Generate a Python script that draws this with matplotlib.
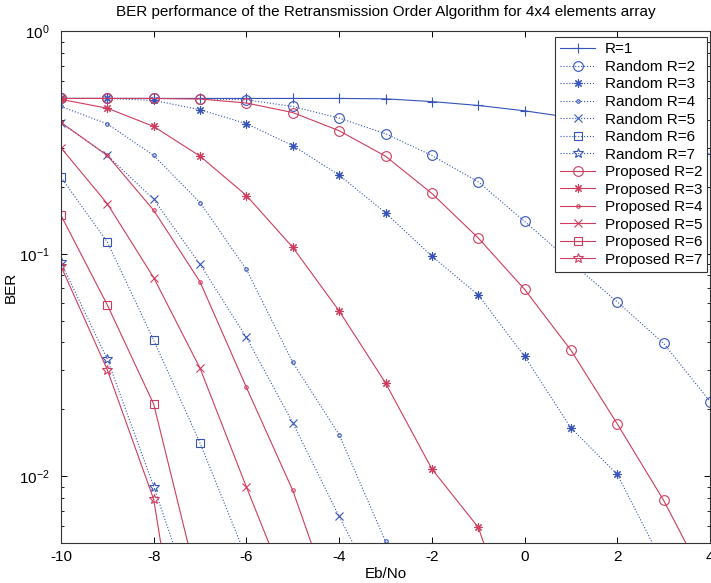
import matplotlib
matplotlib.use("Agg")
import matplotlib.pyplot as plt
from matplotlib.ticker import LogLocator, NullFormatter

plt.rcParams['font.family'] = ['Liberation Sans', 'DejaVu Sans']
plt.rcParams['mathtext.fontset'] = 'custom'
plt.rcParams['mathtext.rm'] = 'Liberation Sans'
plt.rcParams['axes.unicode_minus'] = False

# Eb/No axis (dB)
ebno = [-10, -9, -8, -7, -6, -5, -4, -3, -2, -1, 0, 1, 2, 3, 4]

# BER without retransmission
ber_r1 = [0.5, 0.5, 0.5, 0.5, 0.5, 0.5, 0.5, 0.498, 0.484, 0.465, 0.44, 0.41, 0.375, 0.33, 0.28]

# random retransmission order
rand_r2 = [0.5, 0.5, 0.5, 0.498, 0.493, 0.46, 0.408, 0.347, 0.277, 0.211, 0.140, 0.092, 0.0608, 0.0396, 0.0217]
rand_r3 = [0.5, 0.5, 0.49, 0.445, 0.385, 0.307, 0.226, 0.153, 0.0977, 0.0654, 0.0346, 0.0165, 0.0102, 0.0040]
rand_r4 = [0.46, 0.384, 0.277, 0.170, 0.0852, 0.0325, 0.0154, 0.0051, 0.0015]
rand_r5 = [0.388, 0.277, 0.176, 0.0897, 0.0421, 0.0174, 0.0066, 0.0026]
rand_r6 = [0.221, 0.113, 0.0409, 0.0141, 0.0043]
rand_r7 = [0.0915, 0.0336, 0.0090, 0.0022]

# proposed retransmission order
prop_r2 = [0.5, 0.5, 0.5, 0.497, 0.477, 0.432, 0.358, 0.275, 0.187, 0.118, 0.0693, 0.0369, 0.0172, 0.0078, 0.0031]
prop_r3 = [0.495, 0.452, 0.374, 0.275, 0.183, 0.107, 0.0554, 0.0263, 0.0108, 0.0059, 0.0015]
prop_r4 = [0.39, 0.277, 0.157, 0.0748, 0.0251, 0.00864, 0.0022]
prop_r5 = [0.30, 0.168, 0.0782, 0.0306, 0.00895, 0.0027]
prop_r6 = [0.149, 0.0589, 0.0211, 0.003]
prop_r7 = [0.088, 0.0301, 0.00787, 0.0004]

blue = '#3553b8'
red = '#cf3d5e'
asterisk = (8, 2, 0)

fig = plt.figure(figsize=(7.11, 5.83), dpi=100)
ax = fig.add_axes([0.0858, 0.0681, 0.9128, 0.8779])

series = [
    (ber_r1, 'R=1', blue, '-', '+', 7),
    (rand_r2, 'Random R=2', blue, ':', 'o', 7),
    (rand_r3, 'Random R=3', blue, ':', asterisk, 6),
    (rand_r4, 'Random R=4', blue, ':', '.', 5),
    (rand_r5, 'Random R=5', blue, ':', 'x', 5.5),
    (rand_r6, 'Random R=6', blue, ':', 's', 6),
    (rand_r7, 'Random R=7', blue, ':', '*', 7.5),
    (prop_r2, 'Proposed R=2', red, '-', 'o', 7),
    (prop_r3, 'Proposed R=3', red, '-', asterisk, 6),
    (prop_r4, 'Proposed R=4', red, '-', '.', 5),
    (prop_r5, 'Proposed R=5', red, '-', 'x', 5.5),
    (prop_r6, 'Proposed R=6', red, '-', 's', 6),
    (prop_r7, 'Proposed R=7', red, '-', '*', 7.5),
]

for ber, label, col, ls, mk, ms in series:
    ax.semilogy(ebno[:len(ber)], ber, linestyle=ls, color=col, linewidth=0.8,
                marker=mk, markersize=ms, markerfacecolor='none',
                markeredgecolor=col, markeredgewidth=0.8, label=label)

ax.set_xlim(-10, 4)
ax.set_ylim(5e-3, 1)
ax.set_xticks(range(-10, 5, 2))
ax.yaxis.set_major_locator(LogLocator(base=10, numticks=10))
ax.yaxis.set_minor_locator(LogLocator(base=10, subs=range(2, 10), numticks=10))
ax.yaxis.set_minor_formatter(NullFormatter())
ax.tick_params(which='both', direction='in', top=True, right=True, labelsize=11)
ax.tick_params(which='major', length=4.5, width=0.7)
ax.tick_params(which='minor', length=2.5, width=0.6)
ax.tick_params(axis='y', pad=8)
ax.tick_params(axis='x', pad=5)
for sp in ax.spines.values():
    sp.set_linewidth(0.8)
    sp.set_color('#333333')

ax.set_title('BER performance of the Retransmission Order Algorithm for 4x4 elements array',
             fontsize=11, pad=11)
ax.set_xlabel('Eb/No', fontsize=11, labelpad=2)
ax.set_ylabel('BER', fontsize=11, labelpad=1)

leg = ax.legend(loc='upper right', bbox_to_anchor=(0.996, 0.989), borderaxespad=0,
                fontsize=11, fancybox=False, framealpha=1, edgecolor='#333333',
                handlelength=2.3, handletextpad=0.6, labelspacing=0.23,
                borderpad=0.35)
leg.get_frame().set_linewidth(0.8)

fig.savefig('out.png', dpi=100)
